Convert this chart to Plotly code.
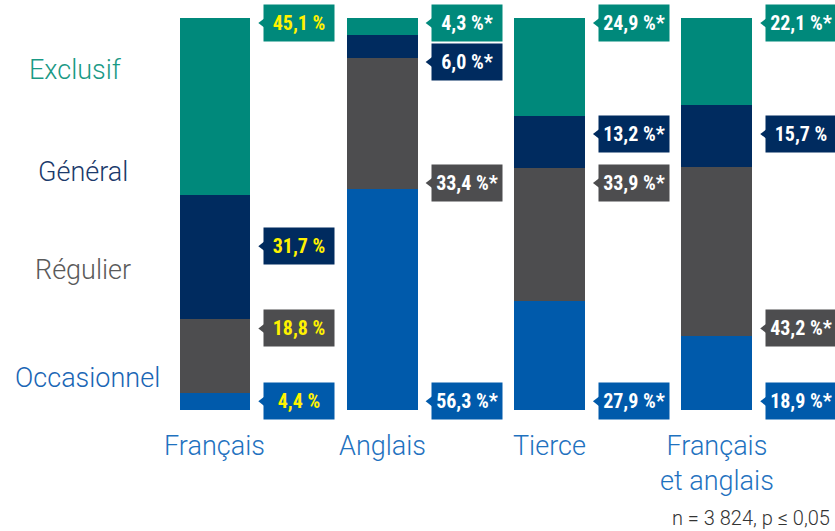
import plotly.graph_objects as go

# ---------------- data ----------------
categories = ["Français", "Anglais", "Tierce", "Français<br>et anglais"]
series_names = ["Occasionnel", "Régulier", "Général", "Exclusif"]
occasionnel = [4.4, 56.3, 27.9, 18.9]
regulier = [18.8, 33.4, 33.9, 43.2]
general = [31.7, 6.0, 13.2, 15.7]
exclusif = [45.1, 4.3, 24.9, 22.1]
sig_occasionnel = [False, True, True, True]
sig_regulier = [False, True, True, True]
sig_general = [False, True, True, False]
sig_exclusif = [False, True, True, True]
note_text = "n = 3 824, p ≤ 0,05"

values = [occasionnel, regulier, general, exclusif]
sigs = [sig_occasionnel, sig_regulier, sig_general, sig_exclusif]

# ---------------- styles / layout ----------------
bar_colors = ["#005aab", "#4d4d4f", "#002b5f", "#00897b"]
legend_colors = ["#1a66b5", "#5a5a5a", "#1b3a6b", "#1a9985"]
label_text_colors = ["#fff200", "#ffffff", "#ffffff", "#ffffff"]
cat_color = "#1f72bf"
xpos = [0, 1, 2, 3]
bar_w = 0.424
# callout vertical slots (value-axis units) for each series / category
label_y = [
    [2.2, 2.2, 2.2, 2.2],
    [20.8, 57.9, 57.9, 20.8],
    [41.8, 88.8, 70.4, 70.4],
    [98.7, 98.7, 98.7, 98.7],
]
legend_y = [8.2, 35.7, 60.7, 86.7]
legend_x = [-0.76, -0.79, -0.79, -0.835]

LABEL_FONT = "Liberation Sans Narrow, Roboto Condensed, Arial Narrow, Roboto, sans-serif"
TEXT_FONT = "Roboto, Liberation Sans, Arial, sans-serif"

fig = go.Figure()
for s, name in enumerate(series_names):
    fig.add_trace(go.Bar(
        x=xpos, y=values[s], width=bar_w, name=name,
        marker=dict(color=bar_colors[s], line=dict(width=0)),
        hoverinfo="skip",
    ))

annotations = []
tri_x, tri_y, tri_c = [], [], []
for s in range(4):
    for i, xc in enumerate(xpos):
        v = values[s][i]
        txt = f"{v:.1f}".replace(".", ",") + " %" + ("*" if sigs[s][i] else "")
        annotations.append(dict(
            x=xc + 0.505, y=label_y[s][i], xref="x", yref="y",
            text=f"<b>{txt}</b>", showarrow=False,
            bgcolor=bar_colors[s], width=66, height=32, borderpad=2,
            align="center", valign="middle",
            font=dict(family=LABEL_FONT, size=20, color=label_text_colors[i]),
        ))
        tri_x.append(xc + 0.289)
        tri_y.append(label_y[s][i])
        tri_c.append(bar_colors[s])

fig.add_trace(go.Scatter(
    x=tri_x, y=tri_y, mode="markers",
    marker=dict(symbol="triangle-left", size=10, color=tri_c, line=dict(width=0)),
    hoverinfo="skip", showlegend=False,
))

for s, name in enumerate(series_names):
    annotations.append(dict(
        x=legend_x[s], y=legend_y[s], xref="x", yref="y", text=name, showarrow=False,
        xanchor="center", yanchor="middle",
        font=dict(family=TEXT_FONT, size=27, color=legend_colors[s], weight=300),
    ))

for i, cat in enumerate(categories):
    annotations.append(dict(
        x=xpos[i], y=-4.6, xref="x", yref="y", text=cat, showarrow=False,
        xanchor="center", yanchor="top",
        font=dict(family=TEXT_FONT, size=27, color=cat_color, weight=300),
    ))

annotations.append(dict(
    x=832 / 835, y=-27.6, xref="paper", yref="y",
    text=note_text, showarrow=False, xanchor="right", yanchor="middle",
    font=dict(family=TEXT_FONT, size=20, color="#333333", weight=300),
))

fig.update_layout(
    width=835, height=531,
    margin=dict(l=0, r=0, t=0, b=0),
    barmode="stack", showlegend=False,
    plot_bgcolor="white", paper_bgcolor="white",
    xaxis=dict(range=[-1.285, 3.706], visible=False, fixedrange=True),
    yaxis=dict(range=[-30.87, 104.59], visible=False, fixedrange=True),
    annotations=annotations,
)

fig.write_html("out.html", config={"displayModeBar": False},
               post_script="document.body.style.margin='0';")
